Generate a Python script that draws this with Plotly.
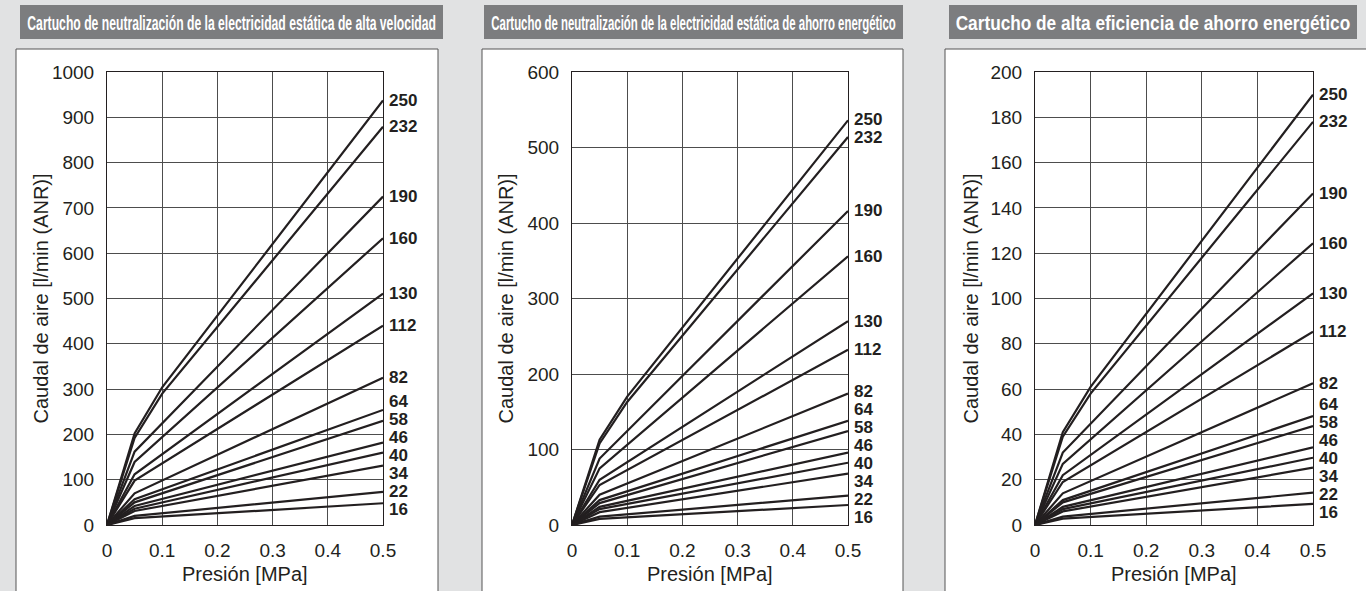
import plotly.graph_objects as go

# ---------------- data ----------------
sizes = [250, 232, 190, 160, 130, 112, 82, 64, 58, 46, 40, 34, 22, 16]
pressure_pts = [0.0, 0.05, 0.1, 0.5]
x_ticks = [0, 0.1, 0.2, 0.3, 0.4, 0.5]

# Panel 1: alta velocidad  (flow at 0.05, 0.1 (only where a knee exists), 0.5 MPa)
hs_q005 = [202, 192, 162, 139, 112, 98, 70, 57, 50, 42, 36, 31, 20, 15]
hs_q01 = [304, 290, None, None, None, None, None, None, None, None, None, None, None, None]
hs_q05 = [937, 879, 725, 633, 511, 440, 325, 254, 230, 182, 160, 131, 73, 48]

# Panel 2: ahorro energético
ae_q005 = [113, 108, 88, 75, 60, 53, 40, 33, 29, 24, 21, 17, 11, 8]
ae_q01 = [170, 163, None, None, None, None, None, None, None, None, None, None, None, None]
ae_q05 = [536, 514, 416, 356, 270, 232, 174, 138, 124.5, 96, 82.5, 68, 39, 26.5]

# Panel 3: alta eficiencia de ahorro energético
he_q005 = [41, 39, 32, 27, 22, 19, 14, 11, 10, 8, 7, 6, 3.7, 2.8]
he_q01 = [61, 58, None, None, None, None, None, None, None, None, None, None, None, None]
he_q05 = [190, 178, 146.4, 124.4, 102.3, 85.3, 62.6, 48.1, 43.7, 34.3, 29.7, 25.3, 14.3, 9.3]

titles = [
    "Cartucho de neutralización de la electricidad estática de alta velocidad",
    "Cartucho de neutralización de la electricidad estática de ahorro energético",
    "Cartucho de alta eficiencia de ahorro energético",
]
y_max = [1000, 600, 200]
y_dtick = [100, 100, 20]
x_title = "Presión [MPa]"
y_title = "Caudal de aire [l/min (ANR)]"

panels = [
    (hs_q005, hs_q01, hs_q05),
    (ae_q005, ae_q01, ae_q05),
    (he_q005, he_q01, he_q05),
]

# ---------------- layout geometry (pixels) ----------------
W, H = 1366, 591
plot_x = [(107, 383), (572, 848), (1035, 1313)]
plot_top, plot_bot = 72, 525
box_x = [(16, 438), (482, 903), (945, 1380)]
bar_x = [(20, 443), (484, 903), (949, 1357)]
title_w = [409, 405, 395]
bar_y = (5, 39)
box_top = 49
ytitle_x = [40, 505, 970]

BG = "#e1e2e3"
INK = "#231f20"
GRID = "#4d4d4d"
FONT = "Liberation Sans, Arial, Helvetica, sans-serif"


def px(x):
    return x / W


def py(y):
    return 1 - y / H


def spread(vals, gap):
    order = sorted(range(len(vals)), key=lambda i: vals[i])
    t = [vals[i] for i in order]
    blocks = [[k] for k in range(len(t))]

    def pos(block):
        m = sum(t[k] for k in block) / len(block)
        n = len(block)
        return [m + (j - (n - 1) / 2) * gap for j in range(n)]

    merged = True
    while merged:
        merged = False
        for b in range(len(blocks) - 1):
            if pos(blocks[b])[-1] + gap > pos(blocks[b + 1])[0] + 1e-9:
                blocks[b] = blocks[b] + blocks[b + 1]
                del blocks[b + 1]
                merged = True
                break
    res = [0] * len(vals)
    for block in blocks:
        for k, p in zip(block, pos(block)):
            res[order[k]] = p
    return res


fig = go.Figure()
shapes = []
annotations = []

for i, (q005, q01, q05) in enumerate(panels):
    n = i + 1
    xa = "x" if n == 1 else f"x{n}"
    ya = "y" if n == 1 else f"y{n}"
    for s, a, b, c in zip(sizes, q005, q01, q05):
        fig.add_trace(go.Scatter(
            x=pressure_pts, y=[0, a, b, c], mode="lines", connectgaps=True,
            line=dict(color=INK, width=2.2), xaxis=xa, yaxis=ya,
            name=str(s), hoverinfo="x+y+name",
        ))
    x0, x1 = plot_x[i]
    fig.layout[f"xaxis{'' if n == 1 else n}"] = dict(
        domain=[px(x0), px(x1)], range=[0, 0.5], anchor=ya,
        tickvals=x_ticks, ticktext=[f"{v:g}" for v in x_ticks],
        showgrid=True, gridcolor=GRID, gridwidth=1, zeroline=False,
        showline=True, mirror=True, linecolor=INK, linewidth=1,
        ticks="", ticklabelstandoff=8, automargin=False,
        tickfont=dict(family=FONT, size=19, color=INK), fixedrange=True,
    )
    fig.layout[f"yaxis{'' if n == 1 else n}"] = dict(
        domain=[py(plot_bot), py(plot_top)], range=[0, y_max[i]], anchor=xa,
        dtick=y_dtick[i], tick0=0,
        showgrid=True, gridcolor=GRID, gridwidth=1, zeroline=False,
        showline=True, mirror=True, linecolor=INK, linewidth=1,
        ticks="", ticklabelstandoff=8, automargin=False,
        tickfont=dict(family=FONT, size=19, color=INK), fixedrange=True,
    )
    # white box + title bar
    bx0, bx1 = box_x[i]
    shapes.append(dict(type="rect", xref="paper", yref="paper",
                       x0=px(bx0), x1=px(bx1), y0=-0.05, y1=py(box_top),
                       fillcolor="white", line=dict(color="#555555", width=1), layer="below"))
    tx0, tx1 = bar_x[i]
    shapes.append(dict(type="rect", xref="paper", yref="paper",
                       x0=px(tx0), x1=px(tx1), y0=py(bar_y[1]), y1=py(bar_y[0]),
                       fillcolor="#7c7d7f", line=dict(width=0), layer="below"))
    annotations.append(dict(
        text=titles[i],
        xref="paper", yref="paper", x=px((tx0 + tx1) / 2), y=py(sum(bar_y) / 2 + 1),
        xanchor="center", yanchor="middle", showarrow=False,
        font=dict(family=FONT, size=20, color="white", weight="bold"),
    ))
    # axis titles
    annotations.append(dict(
        text=x_title, xref="paper", yref="paper", x=px((x0 + x1) / 2), y=py(574),
        xanchor="center", yanchor="middle", showarrow=False,
        font=dict(family=FONT, size=20, color=INK)))
    annotations.append(dict(
        text=y_title, xref="paper", yref="paper", x=px(ytitle_x[i]), y=py((plot_top + plot_bot) / 2),
        xanchor="center", yanchor="middle", showarrow=False, textangle=-90,
        font=dict(family=FONT, size=20, color=INK)))
    # end labels, spread apart so they do not overlap
    pxu = (plot_bot - plot_top) / y_max[i]
    lab_y = spread(q05, 18 / pxu)
    for s, ly in zip(sizes, lab_y):
        annotations.append(dict(
            text=f"<b>{s}</b>", xref=xa, yref=ya, x=0.5, y=ly, xanchor="left",
            yanchor="middle", xshift=4, showarrow=False,
            font=dict(family=FONT, size=17, color=INK)))

fig.update_layout(
    template="none",
    width=W, height=H, autosize=False,
    margin=dict(l=0, r=0, t=0, b=0, pad=0, autoexpand=False),
    paper_bgcolor=BG, plot_bgcolor=BG, showlegend=False,
    shapes=shapes, annotations=annotations,
)

targets_js = ",".join(str(w) for w in title_w)
post = (
    "if(window.__sq){window.__sq();}\n});\n"
    "document.body.style.margin='0px';\n"
    "document.body.style.overflow='hidden';\n"
    "document.documentElement.style.overflow='hidden';\n"
    "window.__sq=function(){try{\n"
    "  var tw=[" + targets_js + "];\n"
    "  var ts=[].slice.call(document.querySelectorAll('text.annotation-text')).filter(function(t){return t.textContent.indexOf('Cartucho')===0;});\n"
    "  ts.sort(function(a,b){return a.getBoundingClientRect().left-b.getBoundingClientRect().left;});\n"
    "  ts.forEach(function(t,i){t.removeAttribute('transform');var b=t.getBBox();if(!b.width)return;"
    "var k=tw[i]/b.width;var cx=b.x+b.width/2;"
    "t.setAttribute('transform','translate('+cx+',0) scale('+k+',1) translate('+(-cx)+',0)');});\n"
    "}catch(e){}};\n"
    "window.__sq();\n"
    "(function(){"
)

fig.write_html("out.html", post_script=post, config={"displayModeBar": False})
